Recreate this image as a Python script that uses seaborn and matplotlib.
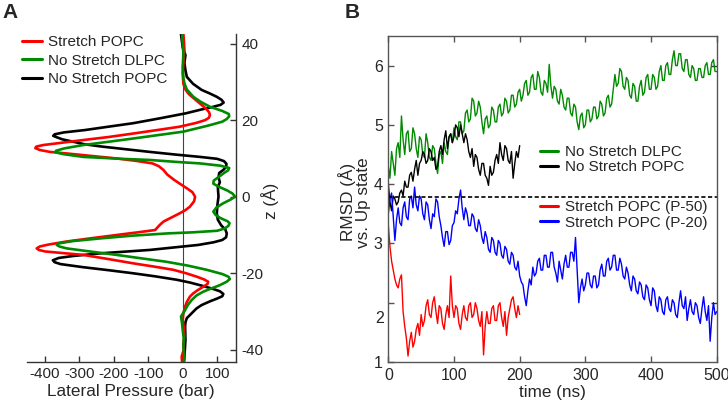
import matplotlib
matplotlib.use("Agg")
import matplotlib.pyplot as plt
import seaborn as sns
import pandas as pd
from matplotlib.lines import Line2D

# ---------------- Panel A data: lateral pressure profiles ----------------
z_black = [42.5, 39, 37, 35, 33, 31.3, 29.5, 27.9, 27.0, 26.1, 25.3, 24.6, 24.0, 23.4, 22.8,
           21.8, 20.5, 19.2, 18.3, 17.4, 16.8, 16.3, 15.9, 15.5, 15.0, 14.4, 13.7, 13.1, 12.4,
           11.7, 11.0, 10.4, 9.9, 9.3, 8.6, 7.8, 7.0, 6.2, 5.0, 3.8, 2.5, 1.2, 0.0,
           -2.0, -4.3, -6.0, -7.5, -8.6, -9.6, -10.6, -11.3, -11.9, -12.6, -13.2, -13.9,
           -14.8, -15.5, -16.0, -16.6, -17.1, -17.6, -18.4, -19.2, -20.0, -20.8, -21.7,
           -22.4, -23.1, -24.0, -24.7, -25.4, -26.0, -26.6, -27.3, -28.3, -29.2, -30.0,
           -31.0, -31.7, -32.8, -33.9, -37.4, -41.8, -43.0]
p_black = [-5, 0, 8, 5, 8, 12, 30, 55, 78, 99, 113, 119, 110, 85, 55,
           10, -65, -144, -215, -285, -345, -372, -376, -365, -350, -320, -285, -235, -165,
           -95, -20, 50, 100, 120, 127, 126, 118, 106, 104, 108, 102, 103, 104,
           101, 99, 102, 112, 124, 128, 126, 115, 90, 45, -20, -95,
           -240, -320, -360, -377, -372, -355, -290, -215, -144, -80, -17,
           20, 50, 85, 108, 118, 115, 100, 80, 55, 40, 31,
           20, 12, 8, 7, 8, 5, 4]

z_red = [42.5, 40, 38.3, 35, 32.2, 29.5, 28.0, 26.8, 25.5, 24.2, 23.0, 22.0, 21.3, 20.6, 20.0,
         19.3, 18.3, 17.4, 16.5, 15.6, 14.8, 14.0, 13.5, 13.1, 12.7, 12.2, 11.7, 11.3, 10.6,
         10.0, 9.3, 8.7, 8.0, 7.0, 5.8, 4.4, 3.2, 2.2, 1.2, 0.0, -1.2, -2.6, -3.5, -4.3,
         -5.4, -6.5, -7.5, -8.7, -9.3, -10.0, -10.9, -11.7, -12.5, -13.0, -13.5, -13.9,
         -14.3, -15.2, -16.3, -17.4, -18.3, -19.1, -20.0, -20.9, -21.6, -22.2, -22.8,
         -23.5, -24.5, -25.3, -26.1, -27.5, -28.7, -30.5, -32.2, -34.0, -36.6, -38.5,
         -40.0, -41.8, -43.0]
p_red = [2, 4, 5, 2, 0, 2, 8, 18, 35, 52, 68, 77, 79, 76, 65,
         40, -8, -75, -144, -215, -289, -360, -405, -425, -428, -415, -385, -337, -260,
         -192, -130, -88, -70, -56, -45, -25, -5, 12, 28, 36, 33, 21, 8, -8,
         -32, -56, -68, -80, -130, -192, -270, -337, -390, -415, -424, -418,
         -400, -289, -215, -144, -80, -27, 10, 41, 62, 74, 72,
         60, 42, 30, 21, 12, 7, 2, 0, 3, 5, 2,
         3, -3, -2]

z_green = [42.5, 40, 37.4, 33.9, 31, 29.6, 28.0, 26.1, 24.8, 23.5, 22.4, 21.6, 21.0, 20.3,
           19.6, 18.6, 17.0, 15.2, 14.3, 13.5, 12.6, 12.0, 11.6, 11.1, 10.4, 9.9, 9.6, 9.1,
           8.7, 8.1, 7.5, 6.9, 6.2, 5.2, 4.2, 3.4, 2.6, 1.6, 0.8, 0.0, -0.7, -1.7, -2.8,
           -3.9, -4.8, -5.6, -6.4, -6.9, -7.6, -8.3, -8.9, -9.3, -9.6, -10.2, -10.9, -11.6,
           -12.2, -12.6, -13.0, -13.5, -14.3, -15.2, -16.1, -17.0, -18.0, -19.1, -20.2,
           -20.9, -21.5, -22.2, -23.1, -24.0, -24.8, -25.8, -27.0, -28.3, -29.6, -31.3,
           -33.0, -34.8, -37.0, -39.2, -41.8, -43.0]
p_green = [-2, 0, 2, 0, 2, 5, 12, 31, 52, 79, 115, 134, 135, 128,
           115, 75, 2, -144, -220, -289, -345, -368, -370, -345, -289, -180, -95, -20,
           50, 110, 135, 132, 120, 105, 90, 89, 105, 130, 145, 152, 140, 118, 98,
           89, 96, 110, 130, 136, 133, 122, 100, 30, -47, -150, -240, -320,
           -360, -366, -358, -337, -270, -192, -120, -47, 15, 70, 115,
           133, 137, 128, 108, 82, 60, 40, 26, 15, 7, -5,
           -2, 0, 3, 2, 5, 3]

# ---------------- Panel B data: RMSD time series (2.5 ns sampling) ----------------
t_long = [i * 2.5 for i in range(201)]
t_short = [i * 2.5 for i in range(81)]

rmsd_dlpc = [4.30, 4.10, 4.55, 4.35, 4.15, 4.60, 4.70, 4.45, 5.15, 4.75,
             4.50, 4.85, 4.90, 4.55, 4.60, 4.95, 4.85, 4.60, 4.45, 4.80,
             4.75, 4.50, 4.45, 4.85, 4.70, 4.45, 4.40, 4.65, 4.60, 4.35,
             4.18, 4.50, 4.55, 4.35, 4.70, 4.55, 4.50, 4.80, 4.85, 4.70,
             4.95, 4.80, 4.75, 5.05, 5.05, 4.85, 4.90, 5.20, 5.25, 5.05,
             5.10, 5.45, 5.40, 5.15, 5.20, 5.40, 5.30, 5.05, 4.85, 5.10,
             5.15, 4.95, 5.00, 5.30, 5.25, 5.05, 5.05, 5.30, 5.35, 5.15,
             5.20, 5.45, 5.40, 5.20, 5.25, 5.50, 5.50, 5.30, 5.35, 5.55,
             5.60, 5.40, 5.50, 5.70, 5.75, 5.50, 5.55, 5.80, 5.85, 5.60,
             5.60, 5.90, 5.80, 5.55, 5.50, 5.75, 5.70, 5.55, 6.02, 5.65,
             5.45, 5.65, 5.60, 5.40, 5.35, 5.60, 5.50, 5.30, 5.25, 5.45,
             5.45, 5.20, 5.15, 5.35, 5.30, 5.05, 4.92, 5.15, 5.20, 4.95,
             5.00, 5.25, 5.25, 5.05, 5.10, 5.30, 5.30, 5.10, 5.15, 5.40,
             5.35, 5.15, 5.20, 5.45, 5.50, 5.30, 5.35, 5.60, 5.85, 5.65,
             5.70, 5.95, 5.90, 5.65, 5.60, 5.80, 5.75, 5.50, 5.45, 5.70,
             5.65, 5.40, 5.40, 5.65, 5.75, 5.50, 5.55, 5.80, 5.85, 5.60,
             5.60, 5.85, 5.80, 5.60, 5.65, 5.90, 6.00, 5.75, 5.75, 6.00,
             6.05, 5.85, 5.85, 6.10, 6.25, 6.00, 6.00, 6.20, 6.20, 5.95,
             5.90, 6.10, 6.10, 5.85, 5.80, 6.00, 5.95, 5.75, 5.75, 5.95,
             5.95, 5.80, 5.80, 6.00, 6.05, 5.85, 5.85, 6.05, 6.10, 5.90,
             5.90]

rmsd_popc = [4.00, 3.70, 3.55, 3.80, 3.75, 3.65, 3.70, 3.85, 3.90, 3.80,
             4.05, 3.95, 3.95, 4.15, 4.20, 4.05, 4.25, 4.40, 4.15, 4.35,
             4.40, 4.55, 4.50, 4.35, 4.40, 4.60, 4.55, 4.40, 4.45, 4.25,
             4.30, 4.55, 4.65, 4.50, 4.75, 4.90, 4.60, 4.80, 4.85, 4.70,
             4.80, 5.00, 4.95, 4.80, 5.00, 4.85, 4.70, 4.85, 4.75, 4.55,
             4.45, 4.60, 4.30, 4.50, 4.45, 4.25, 4.15, 4.35, 4.35, 4.15,
             4.10, 3.98, 4.30, 4.15, 4.20, 4.40, 4.50, 4.35, 4.70, 4.50,
             4.40, 4.65, 4.60, 4.40, 4.35, 4.55, 4.10, 4.35, 4.55, 4.45,
             4.65]

rmsd_p20 = [3.50, 3.75, 3.85, 3.45, 3.05, 3.40, 3.60, 3.35, 3.30, 3.60,
            3.70, 3.45, 3.40, 3.75, 3.80, 3.60, 3.95, 3.65, 3.55, 3.80,
            3.75, 3.50, 3.40, 3.70, 3.65, 3.40, 3.25, 3.50, 3.45, 3.75,
            3.70, 3.45, 3.30, 3.10, 2.95, 3.20, 3.20, 2.98, 3.05, 3.30,
            3.35, 3.55, 3.50, 3.75, 3.90, 3.60, 3.40, 3.60, 3.50, 3.30,
            3.30, 3.50, 3.45, 3.25, 3.20, 3.40, 3.30, 3.10, 3.00, 3.20,
            3.10, 2.90, 2.85, 3.10, 3.05, 2.85, 2.80, 3.05, 3.00, 2.80,
            2.75, 2.95, 2.90, 2.70, 2.65, 2.85, 2.80, 2.60, 2.55, 2.70,
            2.45, 2.35, 2.30, 2.10, 1.95, 2.20, 2.40, 2.30, 2.60, 2.45,
            2.50, 2.70, 2.75, 2.55, 2.55, 2.80, 2.80, 2.60, 2.60, 2.85,
            2.85, 2.60, 2.50, 2.35, 2.70, 2.55, 2.40, 2.65, 2.80, 2.60,
            2.60, 2.85, 2.85, 2.70, 3.10, 2.55, 2.00, 2.25, 2.40, 2.20,
            2.30, 2.50, 2.50, 2.30, 2.25, 2.45, 2.45, 2.25, 2.30, 2.55,
            2.65, 2.45, 2.45, 2.70, 2.75, 2.55, 2.60, 2.80, 2.80, 2.55,
            2.55, 2.75, 2.65, 2.45, 2.40, 2.60, 2.50, 2.30, 2.20, 2.45,
            2.40, 2.20, 2.15, 2.35, 2.30, 2.10, 2.05, 2.30, 2.25, 2.05,
            1.95, 2.25, 2.20, 1.95, 1.85, 2.10, 2.05, 1.85, 1.80, 2.05,
            2.10, 1.90, 1.85, 2.05, 2.00, 1.80, 1.75, 2.00, 2.20, 1.95,
            1.90, 2.10, 1.70, 1.90, 2.05, 1.85, 1.80, 2.00, 1.95, 1.75,
            1.65, 1.90, 2.10, 1.85, 1.70, 1.95, 1.35, 1.75, 2.00, 1.80,
            1.85]

rmsd_p50 = [3.30, 2.95, 2.70, 2.55, 2.40, 2.30, 2.25, 2.40, 2.47, 1.85,
            1.60, 1.40, 1.10, 1.35, 1.50, 1.25, 1.35, 1.55, 1.65, 1.45,
            1.80, 1.60, 1.70, 1.95, 2.05, 1.80, 1.75, 2.00, 2.10, 1.85,
            1.65, 1.95, 1.90, 1.65, 1.55, 1.80, 1.95, 1.75, 2.45, 1.95,
            1.75, 1.95, 1.90, 1.65, 1.55, 1.80, 1.95, 1.75, 1.70, 1.95,
            2.00, 1.75, 1.80, 2.00, 1.90, 1.70, 1.60, 1.85, 1.12, 1.60,
            1.85, 1.65, 1.65, 1.90, 1.95, 1.70, 1.70, 1.95, 2.00, 1.75,
            1.60, 1.85, 1.45, 1.75, 1.90, 2.05, 2.10, 1.90, 1.75, 1.95,
            1.80]

threshold = 3.79

RED = "#ff0000"
GREEN = "#008a00"
BLACK = "#000000"
BLUE = "#0000ff"

sns.set_style("ticks")
plt.rcParams["font.family"] = ["Liberation Sans", "DejaVu Sans"]
plt.rcParams["font.size"] = 11
plt.rcParams["axes.unicode_minus"] = False

fig = plt.figure(figsize=(7.28, 4.04), dpi=100)

# ---------------- Panel A ----------------
axA = fig.add_axes([0.0367, 0.1047, 0.2871, 0.8111])
dfA = pd.concat([
    pd.DataFrame({"P": p_black, "z": z_black, "s": "No Stretch POPC"}),
    pd.DataFrame({"P": p_red, "z": z_red, "s": "Stretch POPC"}),
    pd.DataFrame({"P": p_green, "z": z_green, "s": "No Stretch DLPC"}),
])
for name, col in [("No Stretch POPC", BLACK), ("Stretch POPC", RED), ("No Stretch DLPC", GREEN)]:
    sub = dfA[dfA["s"] == name]
    sns.lineplot(data=sub, x="P", y="z", sort=False, estimator=None, orient="y",
                 color=col, lw=1.9, ax=axA, legend=False)
axA.axvline(0, color="#444444", lw=0.8, zorder=0)
axA.set_xlim(-453, 154)
axA.set_ylim(-43.1, 42.5)
axA.set_xticks([-400, -300, -200, -100, 0, 100])
axA.set_yticks([-40, -20, 0, 20, 40])
for s in ["left", "top"]:
    axA.spines[s].set_visible(False)
for s in ["right", "bottom"]:
    axA.spines[s].set_color("#333333")
    axA.spines[s].set_linewidth(1.0)
axA.yaxis.tick_right()
axA.tick_params(axis="both", direction="in", length=4, width=1.0, color="#333333",
                labelsize=11, pad=4)
axA.tick_params(axis="y", left=False, right=True, labelleft=False, labelright=True)
axA.set_xlabel("Lateral Pressure (bar)", fontsize=12.3, labelpad=2)
axA.yaxis.set_label_position("right")
axA.set_ylabel("z (Å)", fontsize=12.3, rotation=90, va="center", ha="center")
axA.yaxis.set_label_coords(1.165, 0.49)

handlesA = [Line2D([], [], color=RED, lw=2.2), Line2D([], [], color=GREEN, lw=2.2),
            Line2D([], [], color=BLACK, lw=2.2)]
labelsA = ["Stretch POPC", "No Stretch DLPC", "No Stretch POPC"]
fig.legend(handlesA, labelsA, loc="upper left", bbox_to_anchor=(0.0298, 0.913),
           frameon=False, borderpad=0, borderaxespad=0, handlelength=1.3,
           handletextpad=0.4, labelspacing=0.29, fontsize=11)

# ---------------- Panel B ----------------
axB = fig.add_axes([0.5334, 0.104, 0.4511, 0.807])
dfB = pd.concat([
    pd.DataFrame({"t": t_long, "r": rmsd_dlpc, "s": "No Stretch DLPC"}),
    pd.DataFrame({"t": t_short, "r": rmsd_popc, "s": "No Stretch POPC"}),
    pd.DataFrame({"t": t_long, "r": rmsd_p20, "s": "Stretch POPC (P-20)"}),
    pd.DataFrame({"t": t_short, "r": rmsd_p50, "s": "Stretch POPC (P-50)"}),
])
colsB = {"No Stretch DLPC": GREEN, "No Stretch POPC": BLACK,
         "Stretch POPC (P-20)": BLUE, "Stretch POPC (P-50)": RED}
for name in ["No Stretch DLPC", "No Stretch POPC", "Stretch POPC (P-20)", "Stretch POPC (P-50)"]:
    sub = dfB[dfB["s"] == name]
    sns.lineplot(data=sub, x="t", y="r", estimator=None, color=colsB[name], lw=1.0,
                 ax=axB, legend=False)
axB.axhline(threshold, color="black", lw=1.2, ls=(0, (2.5, 1.5)))
axB.set_xlim(0, 500)
axB.set_ylim(1, 6.5)
axB.set_xticks([0, 100, 200, 300, 400, 500])
axB.set_yticks([1, 2, 3, 4, 5, 6])
axB.set_yticklabels(["1", "", "3", "4", "5", "6"])
axB.text(-0.012, 1.73, "2", transform=axB.get_yaxis_transform(), ha="right",
         va="center", fontsize=11.5)
for s in axB.spines.values():
    s.set_color("#555555")
    s.set_linewidth(1.0)
axB.tick_params(axis="both", direction="in", length=4, width=1.0, color="#555555",
                labelsize=11.5, pad=4)
axB.tick_params(axis="x", top=True)
sec = axB.secondary_yaxis("right")
sec.set_yticks([2, 6])
sec.tick_params(direction="in", length=4, width=1.0, color="#333333", labelright=False)
sec.spines["right"].set_visible(False)
axB.set_xlabel("time (ns)", fontsize=12.3, labelpad=2)
axB.set_ylabel("RMSD (Å)\nvs. Up state", fontsize=12.3, va="center", ha="center",
               linespacing=1.0)
axB.yaxis.set_label_coords(-0.104, 0.49)

h1 = [Line2D([], [], color=GREEN, lw=2.2), Line2D([], [], color=BLACK, lw=2.2)]
leg1 = axB.legend(h1, ["No Stretch DLPC", "No Stretch POPC"], loc="upper left",
                  bbox_to_anchor=(0.462, 0.665), frameon=False, borderpad=0,
                  borderaxespad=0, handlelength=1.18, handletextpad=0.45,
                  labelspacing=0.07, fontsize=11)
axB.add_artist(leg1)
h2 = [Line2D([], [], color=RED, lw=2.2), Line2D([], [], color=BLUE, lw=2.2)]
axB.legend(h2, ["Stretch POPC (P-50)", "Stretch POPC (P-20)"], loc="upper left",
           bbox_to_anchor=(0.462, 0.4954), frameon=False, borderpad=0,
           borderaxespad=0, handlelength=1.18, handletextpad=0.45,
           labelspacing=0.07, fontsize=11)

fig.text(0.004, 0.97, "A", fontsize=15, fontweight="bold", va="center", ha="left")
fig.text(0.474, 0.97, "B", fontsize=15, fontweight="bold", va="center", ha="left")

fig.savefig("out.png", dpi=100)
